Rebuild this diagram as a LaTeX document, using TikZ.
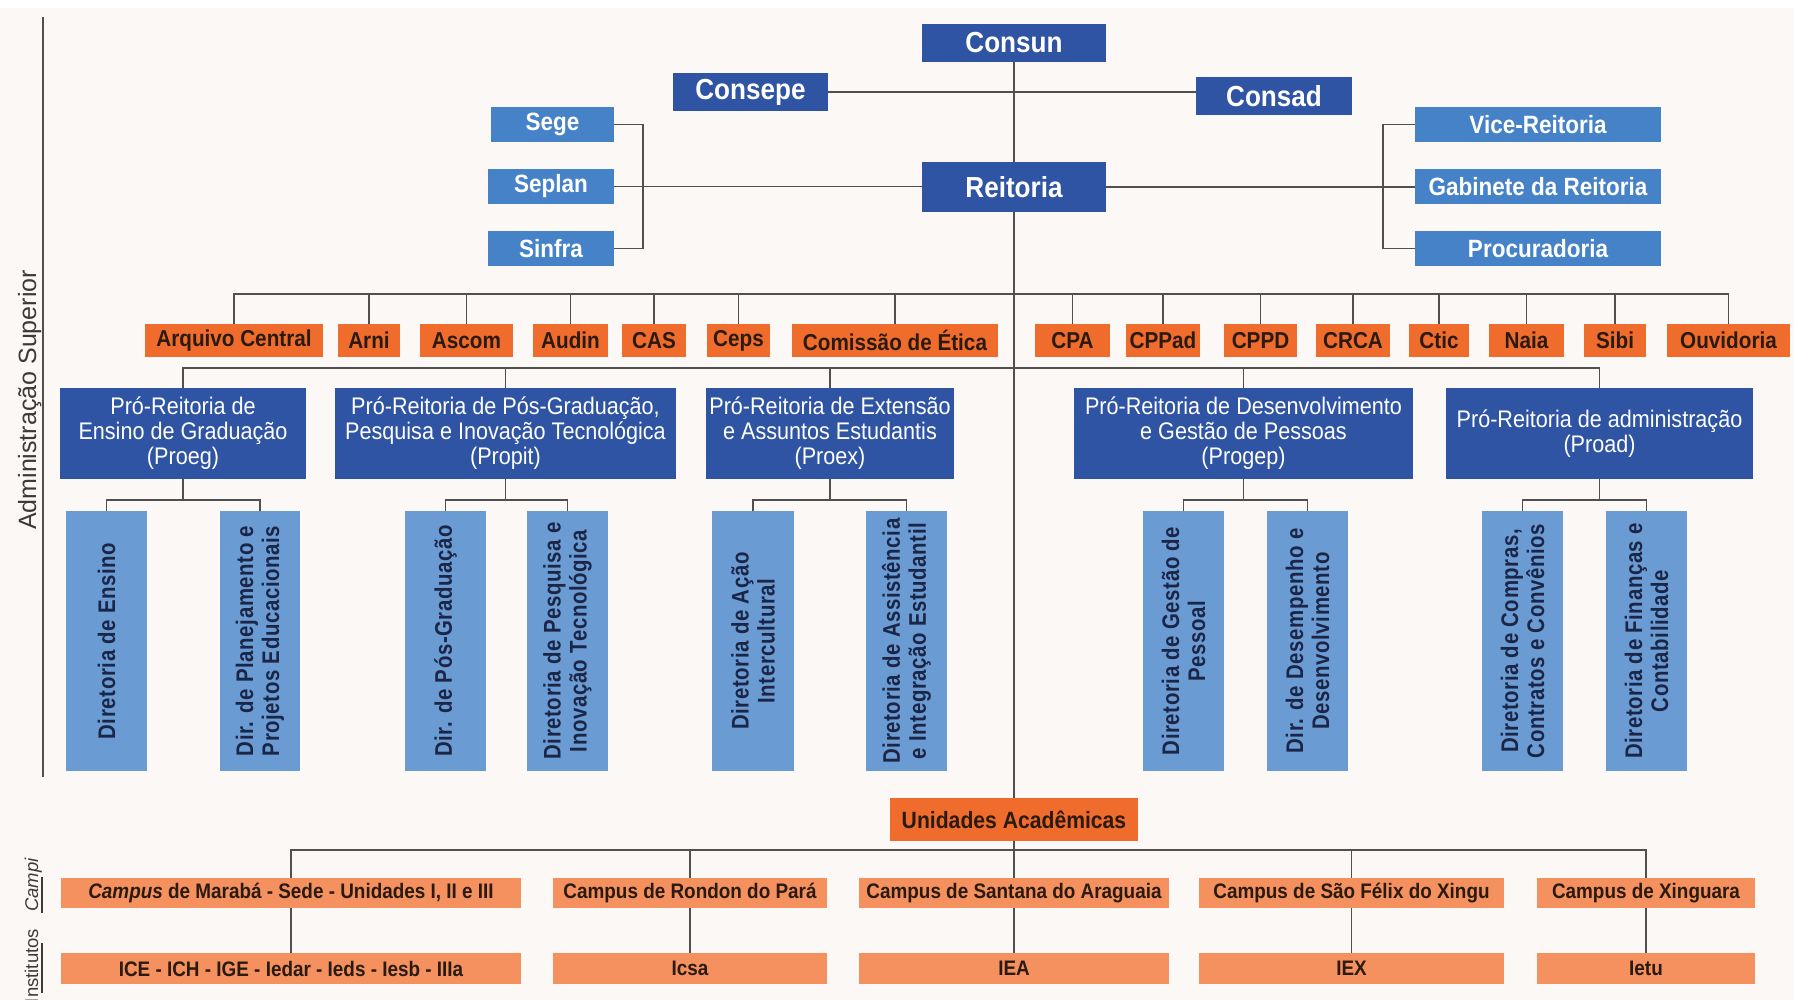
\documentclass[tikz,border=0pt]{standalone}
\usepackage{fontspec}
\setmainfont{Liberation Sans}
\newfontfamily\hf{Liberation Sans}[FakeStretch=0.9]
\newfontfamily\df{Liberation Sans}[FakeStretch=0.85,LetterSpace=2.5]
\definecolor{dblue}{HTML}{2F54A3}
\definecolor{mblue}{HTML}{4682C8}
\definecolor{lblue}{HTML}{6B9BD3}
\definecolor{orng}{HTML}{EF6C2C}
\definecolor{salmon}{HTML}{F4915E}
\definecolor{bgc}{HTML}{FCF8F6}
\definecolor{lgray}{HTML}{505050}
\definecolor{otext}{HTML}{2A1A10}
\definecolor{dtext}{HTML}{1B2647}
\definecolor{sidetext}{HTML}{3A3A3A}
\pgfdeclarelayer{back}
\pgfdeclarelayer{lines}
\pgfsetlayers{back,lines,main}
\newcommand\mybox[7]{\node[#6, minimum width={(#4)-(#2)}, minimum height={(#5)-(#3)}] (#1) at ({((#2)+(#4))/2},{((#3)+(#5))/2}) {#7};}
\tikzset{
  basebox/.style={inner sep=0pt, outer sep=0pt, draw=none},
  topbox/.style={basebox, fill=dblue, text=white, font=\hf\bfseries\fontsize{29}{30}\selectfont},
  secbox/.style={basebox, fill=mblue, text=white, font=\hf\bfseries\fontsize{25}{26}\selectfont},
  orgbox/.style={basebox, fill=orng, text=otext, font=\hf\bfseries\fontsize{23}{24}\selectfont},
  probox/.style={basebox, fill=dblue, text=white, align=center, font=\hf\fontsize{24}{25}\selectfont},
  dirbox/.style={basebox, fill=lblue},
  dirtxt/.style={inner sep=0pt, rotate=90, text=dtext, align=center, font=\df\bfseries\fontsize{24}{26}\selectfont},
  unibox/.style={basebox, fill=orng, text=otext, font=\hf\bfseries\fontsize{23.5}{25}\selectfont},
  campbox/.style={basebox, fill=salmon, text=otext, font=\hf\bfseries\fontsize{21}{22}\selectfont},
  conn/.style={draw=lgray, line width=1.5pt},
  sidelbl/.style={rotate=90, anchor=base, inner sep=0pt, text=sidetext},
}
\begin{document}
\begin{tikzpicture}[x=1pt,y=-1pt]
\useasboundingbox (0,0) rectangle (1794,1000);
\begin{pgfonlayer}{back}
\fill[bgc] (0,8) rectangle (1794,1000);
\fill[white] (0,0) rectangle (1794,8);
\end{pgfonlayer}

% top level
\mybox{consun}{922}{24}{1106}{62}{topbox}{Consun}
\mybox{consepe}{673}{73}{828}{111}{topbox}{Consepe}
\mybox{consad}{1196}{77}{1352}{115}{topbox}{Consad}
\mybox{reitoria}{922}{162}{1106}{212}{topbox}{Reitoria}
\mybox{sege}{491}{107}{614}{142}{secbox}{Sege}
\mybox{seplan}{488}{169}{614}{204}{secbox}{Seplan}
\mybox{sinfra}{488}{231}{614}{266}{secbox}{Sinfra}
\mybox{vice}{1415}{107}{1661}{142}{secbox}{Vice-Reitoria}
\mybox{gab}{1415}{169}{1661}{204}{secbox}{Gabinete da Reitoria}
\mybox{proc}{1415}{231}{1661}{266}{secbox}{Procuradoria}

% orange row
\mybox{arq}{145}{324}{323}{357}{orgbox}{Arquivo Central}
\mybox{arni}{338}{324}{400}{357}{orgbox}{Arni}
\mybox{ascom}{420}{324}{513}{357}{orgbox}{Ascom}
\mybox{audin}{533}{324}{608}{357}{orgbox}{Audin}
\mybox{cas}{622}{324}{686}{357}{orgbox}{CAS}
\mybox{ceps}{707}{324}{770}{357}{orgbox}{Ceps}
\mybox{etica}{792}{324}{998}{357}{orgbox}{Comissão de Ética}
\mybox{cpa}{1035}{324}{1110}{357}{orgbox}{CPA}
\mybox{cppad}{1126}{324}{1200}{357}{orgbox}{CPPad}
\mybox{cppd}{1224}{324}{1297}{357}{orgbox}{CPPD}
\mybox{crca}{1316}{324}{1390}{357}{orgbox}{CRCA}
\mybox{ctic}{1409}{324}{1469}{357}{orgbox}{Ctic}
\mybox{naia}{1489}{324}{1564}{357}{orgbox}{Naia}
\mybox{sibi}{1584}{324}{1646}{357}{orgbox}{Sibi}
\mybox{ouv}{1667}{324}{1790}{357}{orgbox}{Ouvidoria}

% pro-reitorias
\mybox{proeg}{60}{388}{306}{479}{probox}{Pró-Reitoria de\\Ensino de Graduação\\(Proeg)}
\mybox{propit}{335}{388}{676}{479}{probox}{Pró-Reitoria de Pós-Graduação,\\Pesquisa e Inovação Tecnológica\\(Propit)}
\mybox{proex}{706}{388}{954}{479}{probox}{Pró-Reitoria de Extensão\\e Assuntos Estudantis\\(Proex)}
\mybox{progep}{1074}{388}{1413}{479}{probox}{Pró-Reitoria de Desenvolvimento\\e Gestão de Pessoas\\(Progep)}
\mybox{proad}{1446}{388}{1753}{479}{probox}{Pró-Reitoria de administração\\(Proad)}

% diretorias
\mybox{d1}{66}{511}{147}{771}{dirbox}{}
\mybox{d2}{220}{511}{300}{771}{dirbox}{}
\mybox{d3}{405}{511}{486}{771}{dirbox}{}
\mybox{d4}{527}{511}{608}{771}{dirbox}{}
\mybox{d5}{712}{511}{794}{771}{dirbox}{}
\mybox{d6}{866}{511}{947}{771}{dirbox}{}
\mybox{d7}{1143}{511}{1224}{771}{dirbox}{}
\mybox{d8}{1267}{511}{1348}{771}{dirbox}{}
\mybox{d9}{1482}{511}{1563}{771}{dirbox}{}
\mybox{d10}{1606}{511}{1687}{771}{dirbox}{}
\node[dirtxt] (t1) at (d1.center) {Diretoria de Ensino};
\node[dirtxt] (t2) at (d2.center) {Dir. de Planejamento e\\Projetos Educacionais};
\node[dirtxt] (t3) at (d3.center) {Dir. de Pós-Graduação};
\node[dirtxt] (t4) at (d4.center) {Diretoria de Pesquisa e\\Inovação Tecnológica};
\node[dirtxt] (t5) at (d5.center) {Diretoria de Ação\\Intercultural};
\node[dirtxt] (t6) at (d6.center) {Diretoria de Assistência\\e Integração Estudantil};
\node[dirtxt] (t7) at (d7.center) {Diretoria de Gestão de\\Pessoal};
\node[dirtxt] (t8) at (d8.center) {Dir. de Desempenho e\\Desenvolvimento};
\node[dirtxt] (t9) at (d9.center) {Diretoria de Compras,\\Contratos e Convênios};
\node[dirtxt] (t10) at (d10.center) {Diretoria de Finanças e\\Contabilidade};

% unidades academicas
\mybox{unid}{890}{798}{1138}{841}{unibox}{Unidades Acadêmicas}
\mybox{c1}{61}{878}{521}{908}{campbox}{\textit{Campus} de Marabá - Sede - Unidades I, II e III}
\mybox{c2}{553}{878}{827}{908}{campbox}{Campus de Rondon do Pará}
\mybox{c3}{859}{878}{1169}{908}{campbox}{Campus de Santana do Araguaia}
\mybox{c4}{1199}{878}{1504}{908}{campbox}{Campus de São Félix do Xingu}
\mybox{c5}{1537}{878}{1755}{908}{campbox}{Campus de Xinguara}
\mybox{i1}{61}{953}{521}{984}{campbox}{ICE - ICH - IGE - Iedar - Ieds - Iesb - IIIa}
\mybox{i2}{553}{953}{827}{984}{campbox}{Icsa}
\mybox{i3}{859}{953}{1169}{984}{campbox}{IEA}
\mybox{i4}{1199}{953}{1504}{984}{campbox}{IEX}
\mybox{i5}{1537}{953}{1755}{984}{campbox}{Ietu}

% side labels
\node[sidelbl, font=\fontsize{25}{26}\selectfont] (adm) at (36,400) {Administração Superior};
\node[sidelbl, font=\itshape\fontsize{18.5}{19}\selectfont] (campi) at (38,885) {Campi};
\node[sidelbl, font=\fontsize{18.5}{19}\selectfont] (inst) at (38,966) {Institutos};
\coordinate (adm1) at (43,17);
\coordinate (adm2) at (43,777);
\coordinate (u1a) at (42,877);
\coordinate (u1b) at (42,913);
\coordinate (u2a) at (42,943);
\coordinate (u2b) at (42,993);

% bus coordinates
\coordinate (lbx) at (643,0);
\coordinate (rbx) at (1383,0);
\coordinate (ob) at (0,294);
\coordinate (pb) at (0,368);
\coordinate (sb) at (0,500);
\coordinate (cb) at (0,850);

\begin{pgfonlayer}{lines}
\draw[conn] (adm1) -- (adm2);
\draw[draw=sidetext, line width=1.5pt] (u1a) -- (u1b);
\draw[draw=sidetext, line width=1.5pt] (u2a) -- (u2b);
% trunk
\draw[conn] (consun.south) -- (i3.north);
\draw[conn] (consepe.east) -- (consepe.east -| consad.west);
% left bracket
\draw[conn] (sege.east) -- (sege.east -| lbx) -- (sinfra.east -| lbx) -- (sinfra.east);
\draw[conn] (seplan.east) -- (seplan.east -| reitoria.west);
% right bracket
\draw[conn] (vice.west) -- (vice.west -| rbx) -- (proc.west -| rbx) -- (proc.west);
\draw[conn] (reitoria.east) -- (reitoria.east -| gab.west);
% orange bus
\draw[conn] (arq.north) |- (ouv.north |- ob) -- (ouv.north);
\foreach \n in {arni,ascom,audin,cas,ceps,etica,cpa,cppad,cppd,crca,ctic,naia,sibi}
  \draw[conn] (\n.north) -- (\n.north |- ob);
% pro-reitoria bus
\draw[conn] (proeg.north) |- (proad.north |- pb) -- (proad.north);
\foreach \n in {propit,proex,progep}
  \draw[conn] (\n.north) -- (\n.north |- pb);
% diretoria sub-buses
\foreach \p/\a/\b in {proeg/d1/d2, propit/d3/d4, proex/d5/d6, progep/d7/d8, proad/d9/d10} {
  \draw[conn] (\p.south) -- (\p.south |- sb);
  \draw[conn] (\a.north) |- (\b.north |- sb) -- (\b.north);
}
% campus bus
\draw[conn] (c1.north) |- (c5.north |- cb) -- (c5.north);
\foreach \n in {c2,c4}
  \draw[conn] (\n.north) -- (\n.north |- cb);
\foreach \a/\b in {c1/i1, c2/i2, c4/i4, c5/i5}
  \draw[conn] (\a.south) -- (\b.north);
\end{pgfonlayer}
\end{tikzpicture}
\end{document}
